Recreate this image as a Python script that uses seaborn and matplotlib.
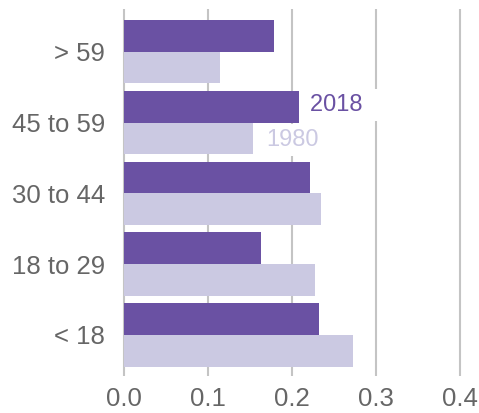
import numpy as np
import pandas as pd
import matplotlib
matplotlib.use("Agg")
import matplotlib.pyplot as plt
import seaborn as sns

# age groups, top to bottom
groups = ["> 59", "45 to 59", "30 to 44", "18 to 29", "< 18"]
share_2018 = [0.178, 0.208, 0.221, 0.163, 0.232]
share_1980 = [0.114, 0.153, 0.234, 0.227, 0.272]
years = ["2018", "1980"]
colors = ["#6a51a3", "#cbc9e2"]
xticks = [0.0, 0.1, 0.2, 0.3, 0.4]

df = pd.DataFrame({
    "group": groups * 2,
    "share": share_2018 + share_1980,
    "year": [years[0]] * len(groups) + [years[1]] * len(groups),
})

sns.set_style("white")
plt.rcParams["font.family"] = ["Liberation Sans", "DejaVu Sans"]

fig = plt.figure(figsize=(4.79, 4.13), dpi=100)
ax = fig.add_axes([0.2543, 0.0896, 0.741, 0.8886])

sns.barplot(data=df, x="share", y="group", hue="year", order=groups,
            hue_order=years, palette=colors, width=0.895, saturation=1,
            orient="h", legend=False, linewidth=0, ax=ax)

ax.set_xlim(-0.003, 0.42)
ax.set_ylim(4.579, -0.603)
ax.set_xticks(xticks)
ax.set_xticklabels(["%.1f" % t for t in xticks])
ax.grid(axis="x", color="#c4c4c4", linewidth=1.5)
ax.grid(axis="y", visible=False)
ax.set_axisbelow(True)
for s in ax.spines.values():
    s.set_visible(False)
ax.tick_params(axis="both", length=0, labelsize=18.5, labelcolor="#666666")
ax.tick_params(axis="x", pad=8)
ax.tick_params(axis="y", pad=12)
ax.set_xlabel("")
ax.set_ylabel("")

# direct labels on white boxes that break the gridlines
box = dict(facecolor="white", edgecolor="none", boxstyle="square,pad=0.2")
ax.text(0.2213, 0.753, years[0] + "   ", color="#6a51a3", fontsize=17,
        va="center", ha="left", bbox=box)
ax.text(0.1697, 1.247, years[1], color="#cbc9e2", fontsize=17,
        va="center", ha="left", bbox=box)

fig.savefig("out.png", dpi=100)
